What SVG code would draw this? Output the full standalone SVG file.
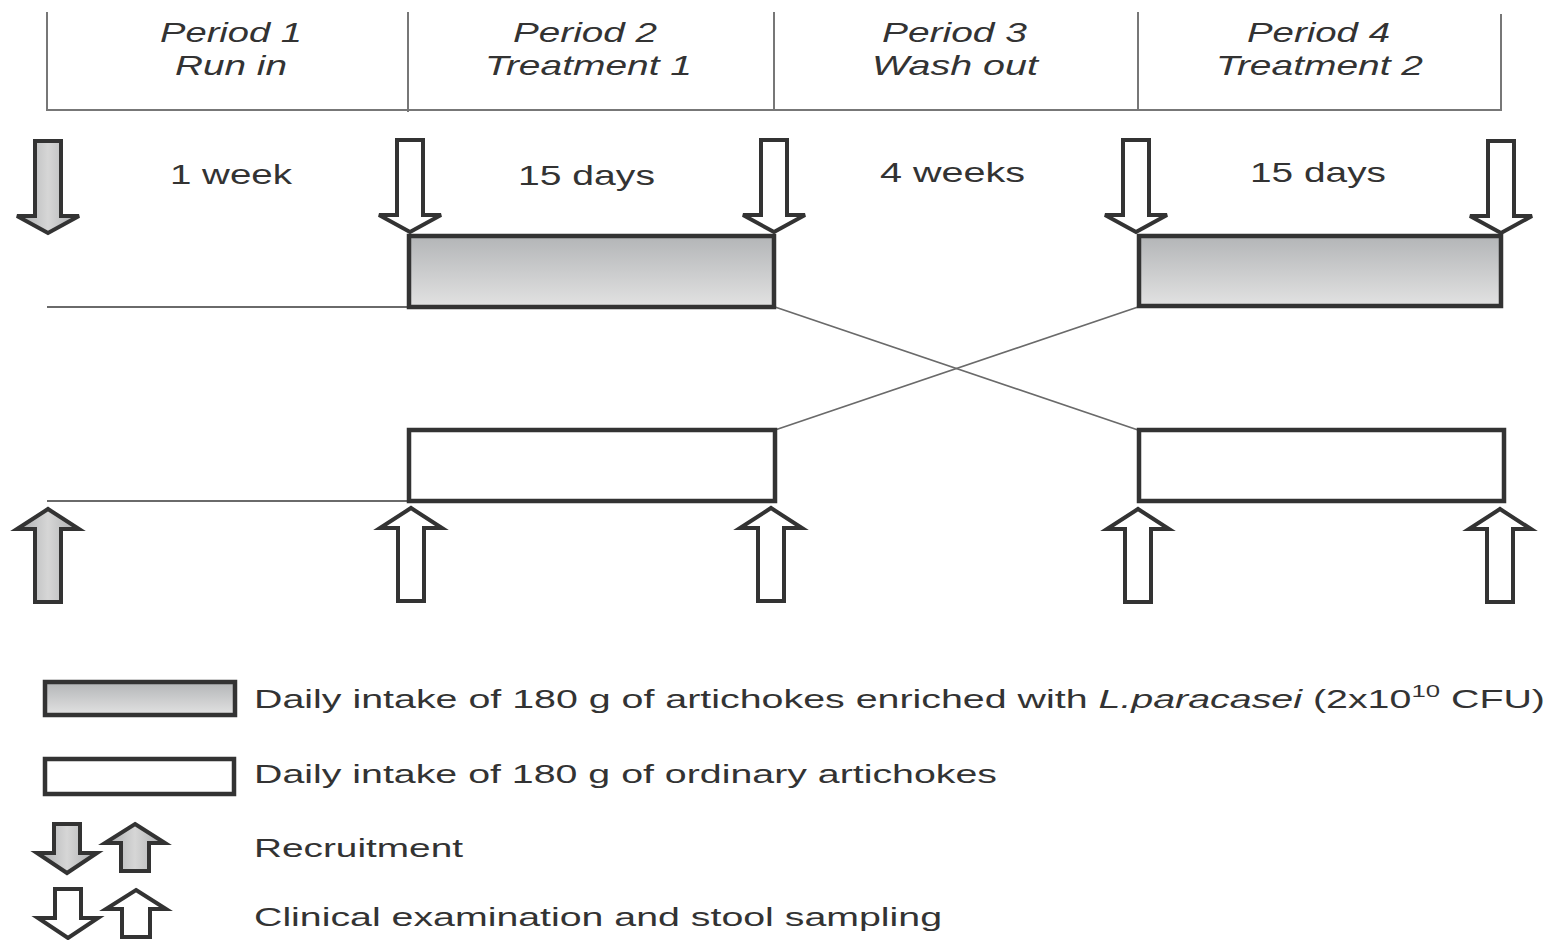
<svg xmlns="http://www.w3.org/2000/svg" xmlns:xlink="http://www.w3.org/1999/xlink" width="1558" height="940" viewBox="0 0 1558 940">
<style>
text{font-family:"Liberation Sans",Arial,sans-serif;fill:#333}
.hd{font-size:28px;font-style:italic}
.du{font-size:28px}
.lg{font-size:26px}
.hline{stroke:#777;stroke-width:2;fill:none}
.conn{stroke:#6a6a6a;stroke-width:1.8;fill:none}
.box{stroke:#333;stroke-width:4.5}
.arr{stroke:#333;stroke-width:4;stroke-linejoin:miter}
</style>
<defs>
<linearGradient id="gbox" x1="0" y1="0" x2="0" y2="1">
<stop offset="0" stop-color="#b3b5b7"/>
<stop offset="1" stop-color="#e2e2e2"/>
</linearGradient>
<linearGradient id="garr" x1="0" y1="0" x2="1" y2="0">
<stop offset="0" stop-color="#a9abad"/>
<stop offset="0.5" stop-color="#d6d6d6"/>
<stop offset="1" stop-color="#a9abad"/>
</linearGradient>
<path id="down" d="M-13,0 H13 V75 H31 L0,92 L-31,75 H-13 Z"/>
<path id="up" d="M0,0 L31,20 H13 V93 H-13 V20 H-31 Z"/>
<path id="sdown" d="M-13,0 H13 V29 H30 L0,49 L-30,29 H-13 Z"/>
<path id="sup" d="M0,0 L30,19 H14 V47 H-14 V19 H-30 Z"/>
</defs>

<g id="header">
<path class="hline" d="M47,12 V110 H1501 V14 M408,12 V112 M774,12 V110 M1138,12 V110"/>
<text class="hd" x="160" y="42" textLength="142" lengthAdjust="spacingAndGlyphs">Period 1</text>
<text class="hd" x="175" y="75" textLength="112" lengthAdjust="spacingAndGlyphs">Run in</text>
<text class="hd" x="513" y="42" textLength="144" lengthAdjust="spacingAndGlyphs">Period 2</text>
<text class="hd" x="485" y="75" textLength="207" lengthAdjust="spacingAndGlyphs">Treatment 1</text>
<text class="hd" x="882" y="42" textLength="145" lengthAdjust="spacingAndGlyphs">Period 3</text>
<text class="hd" x="872" y="75" textLength="166" lengthAdjust="spacingAndGlyphs">Wash out</text>
<text class="hd" x="1247" y="42" textLength="143" lengthAdjust="spacingAndGlyphs">Period 4</text>
<text class="hd" x="1216" y="75" textLength="207" lengthAdjust="spacingAndGlyphs">Treatment 2</text>
</g>

<g id="durations">
<text class="du" x="170" y="184" textLength="122" lengthAdjust="spacingAndGlyphs">1 week</text>
<text class="du" x="518" y="185" textLength="137" lengthAdjust="spacingAndGlyphs">15 days</text>
<text class="du" x="880" y="182" textLength="145" lengthAdjust="spacingAndGlyphs">4 weeks</text>
<text class="du" x="1250" y="182" textLength="136" lengthAdjust="spacingAndGlyphs">15 days</text>
</g>

<g id="connectors">
<line class="conn" x1="47" y1="307" x2="408" y2="307"/>
<line class="conn" x1="47" y1="501" x2="408" y2="501"/>
<line class="conn" x1="775" y1="307" x2="1138" y2="430"/>
<line class="conn" x1="775" y1="430" x2="1138" y2="307"/>
</g>

<g id="box-treatment1-enriched"><rect class="box" x="409" y="236" width="365" height="71" fill="url(#gbox)"/></g>
<g id="box-treatment2-enriched"><rect class="box" x="1139" y="236" width="362" height="70" fill="url(#gbox)"/></g>
<g id="box-treatment1-ordinary"><rect class="box" x="409" y="430" width="366" height="71" fill="#fff"/></g>
<g id="box-treatment2-ordinary"><rect class="box" x="1139" y="430" width="365" height="71" fill="#fff"/></g>

<g id="down-arrows">
<use xlink:href="#down" class="arr" fill="url(#garr)" transform="translate(48,141)"/>
<use xlink:href="#down" class="arr" fill="#fff" transform="translate(410,140)"/>
<use xlink:href="#down" class="arr" fill="#fff" transform="translate(774,140)"/>
<use xlink:href="#down" class="arr" fill="#fff" transform="translate(1136,140)"/>
<use xlink:href="#down" class="arr" fill="#fff" transform="translate(1501,141)"/>
</g>

<g id="up-arrows">
<use xlink:href="#up" class="arr" fill="url(#garr)" transform="translate(48,509)"/>
<use xlink:href="#up" class="arr" fill="#fff" transform="translate(411,508)"/>
<use xlink:href="#up" class="arr" fill="#fff" transform="translate(771,508)"/>
<use xlink:href="#up" class="arr" fill="#fff" transform="translate(1138,509)"/>
<use xlink:href="#up" class="arr" fill="#fff" transform="translate(1500,509)"/>
</g>

<g id="legend-enriched">
<rect class="box" x="45" y="682" width="190" height="33" fill="url(#gbox)"/>
<text class="lg" x="254" y="708" textLength="1291" lengthAdjust="spacingAndGlyphs">Daily intake of 180 g of artichokes enriched with <tspan font-style="italic">L.paracasei</tspan> (2x10<tspan font-size="17" dy="-11">10</tspan><tspan dy="11"> CFU)</tspan></text>
</g>
<g id="legend-ordinary">
<rect class="box" x="45" y="759" width="189" height="35" fill="#fff"/>
<text class="lg" x="254" y="783" textLength="743" lengthAdjust="spacingAndGlyphs">Daily intake of 180 g of ordinary artichokes</text>
</g>
<g id="legend-recruitment">
<use xlink:href="#sdown" class="arr" fill="url(#garr)" transform="translate(67,824)"/>
<use xlink:href="#sup" class="arr" fill="url(#garr)" transform="translate(135,824)"/>
<text class="lg" x="254" y="857" textLength="209" lengthAdjust="spacingAndGlyphs">Recruitment</text>
</g>
<g id="legend-clinical">
<use xlink:href="#sdown" class="arr" fill="#fff" transform="translate(68,889)"/>
<use xlink:href="#sup" class="arr" fill="#fff" transform="translate(136,890)"/>
<text class="lg" x="254" y="926" textLength="688" lengthAdjust="spacingAndGlyphs">Clinical examination and stool sampling</text>
</g>
</svg>
